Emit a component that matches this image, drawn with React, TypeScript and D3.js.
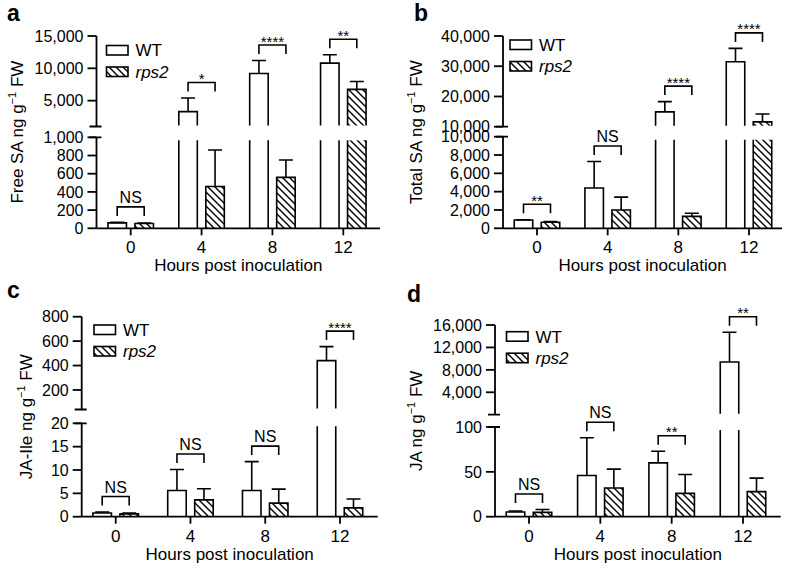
import React from "react";
import * as d3 from "d3";

const hours = ["0", "4", "8", "12"];
const seriesNames = ["WT", "rps2"];

// a — free SA
const freeSaWt = [60, 3300, 9200, 10800];
const freeSaWtSd = [5, 2100, 2000, 1300];
const freeSaRps2 = [52, 460, 560, 6750];
const freeSaRps2Sd = [5, 400, 190, 1200];
const freeSaSig = ["NS", "*", "****", "**"];
const freeSaLowTicks = [0, 200, 400, 600, 800, 1000];
const freeSaHighTicks = [5000, 10000, 15000];

// b — total SA
const totalSaWt = [900, 4400, 14900, 31500];
const totalSaWtSd = [30, 2900, 3400, 4400];
const totalSaRps2 = [660, 2000, 1300, 11600];
const totalSaRps2Sd = [90, 1400, 350, 2600];
const totalSaSig = ["**", "NS", "****", "****"];
const totalSaLowTicks = [0, 2000, 4000, 6000, 8000, 10000];
const totalSaHighTicks = [10000, 20000, 30000, 40000];

// c — JA-Ile
const jaIleWt = [0.8, 5.6, 5.6, 440];
const jaIleWtSd = [0.2, 4.5, 6.2, 115];
const jaIleRps2 = [0.6, 3.6, 2.9, 1.9];
const jaIleRps2Sd = [0.2, 2.4, 3.0, 1.9];
const jaIleSig = ["NS", "NS", "NS", "****"];
const jaIleLowTicks = [0, 5, 10, 15, 20];
const jaIleHighTicks = [200, 400, 600, 800];

// d — JA
const jaWt = [5.2, 46, 60, 9400];
const jaWtSd = [1.2, 42, 13, 5300];
const jaRps2 = [4.8, 32, 26, 28];
const jaRps2Sd = [3.2, 21, 21, 15];
const jaSig = ["NS", "NS", "**", "**"];
const jaLowTicks = [0, 50, 100];
const jaHighTicks = [4000, 8000, 12000, 16000];

const FONT = "'Liberation Sans', Arial, Helvetica, sans-serif";
const fmt = d3.format(",");

type Layout = {
  ax: number; xEnd: number; c0: number; c3: number;
  yTop: number; yHighBottom: number; yLowTop: number; yBase: number;
  letterX: number; letterY: number; legX: number; legY: number; ylabX: number;
};

type Panel = {
  letter: string; ylab: string;
  wt: number[]; wtSd: number[]; mut: number[]; mutSd: number[]; sig: string[];
  lowTicks: number[]; highTicks: number[];
  lowMax: number; highMin: number; highMax: number;
  layout: Layout;
};

const panels: Panel[] = [
  {
    letter: "a", ylab: "Free SA ng g",
    wt: freeSaWt, wtSd: freeSaWtSd, mut: freeSaRps2, mutSd: freeSaRps2Sd, sig: freeSaSig,
    lowTicks: freeSaLowTicks, highTicks: freeSaHighTicks, lowMax: 1000, highMin: 1000, highMax: 15000,
    layout: { ax: 96.5, xEnd: 380, c0: 130.7, c3: 343.3, yTop: 36, yHighBottom: 126.5, yLowTop: 137.3, yBase: 228.3,
      letterX: 7, letterY: 21, legX: 106.5, legY: 45.5, ylabX: 23 },
  },
  {
    letter: "b", ylab: "Total SA ng g",
    wt: totalSaWt, wtSd: totalSaWtSd, mut: totalSaRps2, mutSd: totalSaRps2Sd, sig: totalSaSig,
    lowTicks: totalSaLowTicks, highTicks: totalSaHighTicks, lowMax: 10000, highMin: 10000, highMax: 40000,
    layout: { ax: 503, xEnd: 782, c0: 537, c3: 749, yTop: 36, yHighBottom: 126.7, yLowTop: 136.7, yBase: 228.3,
      letterX: 414, letterY: 21, legX: 510, legY: 40, ylabX: 422 },
  },
  {
    letter: "c", ylab: "JA-Ile ng g",
    wt: jaIleWt, wtSd: jaIleWtSd, mut: jaIleRps2, mutSd: jaIleRps2Sd, sig: jaIleSig,
    lowTicks: jaIleLowTicks, highTicks: jaIleHighTicks, lowMax: 20, highMin: 40, highMax: 800,
    layout: { ax: 81.7, xEnd: 377.7, c0: 115.7, c3: 340, yTop: 316.7, yHighBottom: 409.5, yLowTop: 423.3, yBase: 516.7,
      letterX: 7, letterY: 298, legX: 94, legY: 325, ylabX: 31.7 },
  },
  {
    letter: "d", ylab: "JA ng g",
    wt: jaWt, wtSd: jaWtSd, mut: jaRps2, mutSd: jaRps2Sd, sig: jaSig,
    lowTicks: jaLowTicks, highTicks: jaHighTicks, lowMax: 100, highMin: 0, highMax: 16000,
    layout: { ax: 495, xEnd: 780.7, c0: 529, c3: 743, yTop: 325, yHighBottom: 414.7, yLowTop: 427, yBase: 516.7,
      letterX: 407, letterY: 302, legX: 506.5, legY: 331.7, ylabX: 422 },
  },
];

const BW = 18.5;
const OFF = 13.5;
const SW = 1.6;

function BarChartPanel({ p }: { p: Panel }) {
  const L = p.layout;
  const x = d3.scalePoint<string>().domain(hours).range([L.c0, L.c3]);
  const yLow = d3.scaleLinear().domain([0, p.lowMax]).range([L.yBase, L.yLowTop]);
  const yHigh = d3.scaleLinear().domain([p.highMin, p.highMax]).range([L.yHighBottom, L.yTop]);
  const yOf = (v: number) => (v <= p.lowMax ? yLow(v) : yHigh(v));

  const bar = (cx: number, v: number, fill: string, key: string) => {
    const l = cx - BW / 2, r = cx + BW / 2;
    if (v <= p.lowMax) {
      const t = yLow(v);
      return (
        <g key={key}>
          <rect x={l} y={t} width={BW} height={L.yBase - t} fill={fill} />
          <path d={`M${l},${L.yBase}V${t}H${r}V${L.yBase}`} fill="none" stroke="#000" strokeWidth={SW} />
        </g>
      );
    }
    // bar crosses the axis break: open top below, open bottom above
    const lt = L.yLowTop + 3;
    const t = yHigh(v);
    const hb = L.yHighBottom - 1;
    return (
      <g key={key}>
        <rect x={l} y={lt} width={BW} height={L.yBase - lt} fill={fill} />
        <path d={`M${l},${lt}V${L.yBase}M${r},${lt}V${L.yBase}`} fill="none" stroke="#000" strokeWidth={SW} />
        <rect x={l} y={t} width={BW} height={hb - t} fill={fill} />
        <path d={`M${l},${hb}V${t}H${r}V${hb}`} fill="none" stroke="#000" strokeWidth={SW} />
      </g>
    );
  };

  const err = (cx: number, v: number, sd: number, key: string) => {
    const y0 = yOf(v), y1 = yOf(v + sd);
    return (
      <path key={key} d={`M${cx},${y0}V${y1}M${cx - 7},${y1}H${cx + 7}`} fill="none" stroke="#000" strokeWidth={SW} />
    );
  };

  const yMid = (L.yTop + L.yBase) / 2;

  return (
    <g>
      <text x={L.letterX} y={L.letterY} fontSize={23} fontWeight="bold" fontFamily={FONT}>{p.letter}</text>

      {/* y axis, upper segment */}
      <path d={`M${L.ax},${L.yTop}V${L.yHighBottom}M${L.ax - 7},${L.yHighBottom}H${L.ax + 5}`} fill="none" stroke="#000" strokeWidth={1.8} />
      {p.highTicks.map((t) => (
        <g key={"h" + t}>
          <line x1={L.ax - 9} x2={L.ax} y1={yHigh(t)} y2={yHigh(t)} stroke="#000" strokeWidth={1.8} />
          <text x={L.ax - 13} y={yHigh(t)} dy="0.36em" textAnchor="end" fontSize={16} fontFamily={FONT}>{fmt(t)}</text>
        </g>
      ))}
      {/* y axis, lower segment */}
      <path d={`M${L.ax},${L.yLowTop}V${L.yBase}M${L.ax - 7},${L.yLowTop}H${L.ax + 5}`} fill="none" stroke="#000" strokeWidth={1.8} />
      {p.lowTicks.map((t) => (
        <g key={"l" + t}>
          <line x1={L.ax - 9} x2={L.ax} y1={yLow(t)} y2={yLow(t)} stroke="#000" strokeWidth={1.8} />
          <text x={L.ax - 13} y={yLow(t)} dy="0.36em" textAnchor="end" fontSize={16} fontFamily={FONT}>{fmt(t)}</text>
        </g>
      ))}

      {/* bars */}
      {hours.map((h, i) => {
        const c = x(h)!;
        return (
          <g key={h}>
            {bar(c - OFF, p.wt[i], "#fff", "w")}
            {bar(c + OFF, p.mut[i], "url(#hatch)", "m")}
            {err(c - OFF, p.wt[i], p.wtSd[i], "we")}
            {err(c + OFF, p.mut[i], p.mutSd[i], "me")}
          </g>
        );
      })}

      {/* x axis */}
      <line x1={L.ax} x2={L.xEnd} y1={L.yBase} y2={L.yBase} stroke="#000" strokeWidth={1.8} />
      {hours.map((h) => (
        <g key={"x" + h}>
          <line x1={x(h)} x2={x(h)} y1={L.yBase} y2={L.yBase + 7} stroke="#000" strokeWidth={1.8} />
          <text x={x(h)} y={L.yBase + 25} textAnchor="middle" fontSize={17} fontFamily={FONT}>{h}</text>
        </g>
      ))}
      <text x={(L.ax + L.xEnd) / 2} y={L.yBase + 43} textAnchor="middle" fontSize={17} fontFamily={FONT}>Hours post inoculation</text>

      {/* y label */}
      <text transform={`translate(${L.ylabX},${yMid}) rotate(-90)`} textAnchor="middle" fontSize={17} fontFamily={FONT}>
        <tspan>{p.ylab}</tspan>
        <tspan dy={-7} fontSize={11}>−1</tspan>
        <tspan dy={7}> FW</tspan>
      </text>

      {/* significance brackets */}
      {hours.map((h, i) => {
        const c = x(h)!;
        const top = Math.min(yOf(p.wt[i] + p.wtSd[i]), yOf(p.mut[i] + p.mutSd[i]));
        const by = top - 15.5;
        const isStar = p.sig[i] !== "NS";
        return (
          <g key={"s" + h}>
            <path d={`M${c - OFF},${by + 9}V${by}H${c + OFF}V${by + 9}`} fill="none" stroke="#000" strokeWidth={SW} />
            <text x={c} y={isStar ? by + 1.5 : by - 4} textAnchor="middle" fontSize={isStar ? 15 : 16} fontFamily={FONT}>{p.sig[i]}</text>
          </g>
        );
      })}

      {/* legend */}
      {seriesNames.map((s, i) => {
        const by = L.legY + i * 21.5;
        return (
          <g key={s}>
            <rect x={L.legX} y={by} width={21.5} height={9.5} fill={i === 0 ? "#fff" : "url(#hatch)"} stroke="#000" strokeWidth={SW} />
            <text x={L.legX + 29} y={by + 4.75} dy="0.36em" fontSize={17} fontFamily={FONT} fontStyle={i === 1 ? "italic" : "normal"}>{s}</text>
          </g>
        );
      })}
    </g>
  );
}

export default function App() {
  return (
    <svg width={788} height={569} style={{ position: "absolute", left: 0, top: 0, background: "#fff" }}>
      <defs>
        <pattern id="hatch" patternUnits="userSpaceOnUse" width={7} height={7}>
          <rect width={7} height={7} fill="#fff" />
          <path d="M0,0L7,7M-1,6L1,8M6,-1L8,1" stroke="#000" strokeWidth={1.4} />
        </pattern>
      </defs>
      <rect width={788} height={569} fill="#fff" />
      {panels.map((p) => (
        <BarChartPanel key={p.letter} p={p} />
      ))}
    </svg>
  );
}
